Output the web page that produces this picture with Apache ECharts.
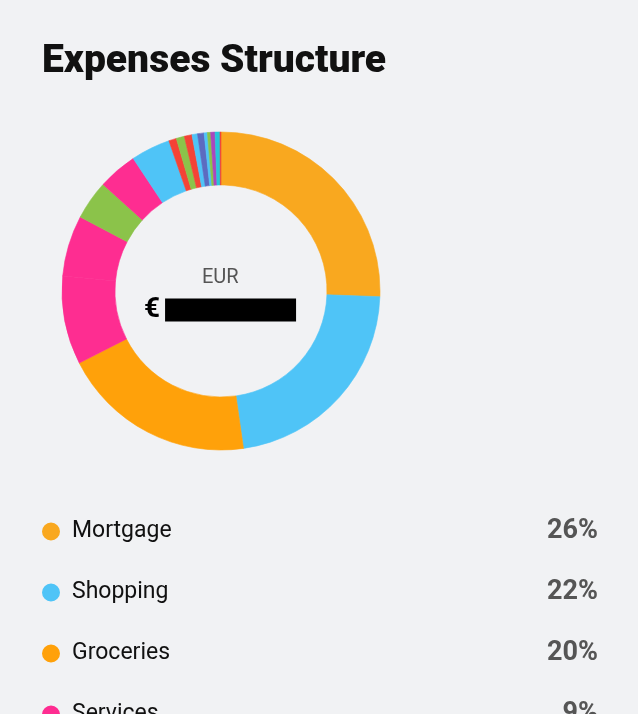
<!DOCTYPE html>
<html>
<head>
<meta charset="utf-8">
<title>Expenses Structure</title>
<script src="https://cdn.jsdelivr.net/npm/echarts@6/dist/echarts.min.js"></script>
<style>
  html, body {margin: 0; padding: 0; background: #F1F2F4;}
  #chart {width: 638px; height: 714px;}
</style>
</head>
<body>
<div id="chart"></div>
<script>
// categories, in the order they go round the ring (clockwise from 12 o'clock)
const categories = [
  'Mortgage', 'Shopping', 'Groceries', 'Services', 'Utilities', 'Transport',
  'Health', 'Restaurants', 'Insurance', 'Entertainment', 'Education', 'Gifts',
  'Subscriptions', 'Pets', 'Travel', 'Sports', 'Books', 'Other'
];
// share of total
const values = [
  25.6, 22.2, 19.8, 9.0, 6.2, 4.0,
  4.0, 4.0, 0.78, 0.83, 0.78, 0.56,
  0.67, 0.33, 0.33, 0.44, 0.5, 0.1
];
const colors = [
  '#F9A81F', '#4FC4F7', '#FFA10A', '#FE2D91', '#FE2D91', '#8BC34A',
  '#FE2D91', '#4FC4F7', '#F44336', '#8BC34A', '#F44336', '#4FC4F7',
  '#5C6BC0', '#4FC4F7', '#8BC34A', '#AB47BC', '#26C6DA', '#F44336'
];
const currency = 'EUR';
const amount = '€';
const hidden = '12,450.00';

const total = values.reduce((a, b) => a + b, 0);
const pct = {};
categories.forEach((c, i) => {
  pct[c] = Math.round(values[i] / total * 100) + '%';
});

const chart = echarts.init(document.getElementById('chart'));

chart.setOption({
  backgroundColor: '#F1F2F4',
  animation: false,
  title: {
    text: 'Expenses Structure',
    left: 42,
    top: 43,
    padding: 0,
    textStyle: {
      fontFamily: 'Roboto',
      fontSize: 39,
      fontWeight: 900,
      color: '#111111'
    }
  },
  legend: {
    orient: 'vertical',
    left: 42,
    top: 518,
    height: 2000,
    padding: 0,
    itemGap: 34,
    itemWidth: 16,
    itemHeight: 16,
    icon: 'circle',
    selectedMode: false,
    data: categories,
    formatter: name => `{n|${name}}{p|${pct[name]}}`,
    textStyle: {
      fontFamily: 'Roboto',
      rich: {
        n: {
          fontFamily: 'Roboto',
          fontSize: 23,
          color: '#111111',
          width: 451,
          lineHeight: 30,
          padding: [0, 0, 0, 8]
        },
        p: {
          fontFamily: 'Roboto',
          fontSize: 27,
          fontWeight: 'bold',
          color: '#555555',
          width: 75,
          align: 'right',
          lineHeight: 30
        }
      }
    }
  },
  graphic: [
    {
      type: 'text',
      left: 202,
      top: 268,
      silent: true,
      style: {
        text: currency,
        fontFamily: 'Roboto',
        fontSize: 20,
        fill: '#555555'
      }
    },
    {
      type: 'text',
      left: 144,
      top: 296,
      silent: true,
      style: {
        text: `{c|${amount}}{m|${hidden}}`,
        rich: {
          c: {
            fontFamily: 'Roboto',
            fontSize: 28,
            fontWeight: 'bold',
            color: '#111111',
            lineHeight: 28,
            padding: [0, 5, 0, 0]
          },
          m: {
            fontFamily: 'Roboto',
            fontSize: 20,
            fontWeight: 'bold',
            color: '#000000',
            backgroundColor: '#000000',
            width: 131,
            height: 23,
            lineHeight: 23
          }
        }
      }
    }
  ],
  series: [{
    type: 'pie',
    center: [221, 291],
    radius: [106, 159],
    startAngle: 90,
    clockwise: true,
    silent: true,
    label: {show: false},
    labelLine: {show: false},
    emphasis: {disabled: true},
    data: categories.map((name, i) => ({
      name: name,
      value: values[i],
      // thin border in the slice's own colour hides seams between neighbours
      itemStyle: {color: colors[i], borderColor: colors[i], borderWidth: 0.6}
    }))
  }]
});
</script>
</body>
</html>
